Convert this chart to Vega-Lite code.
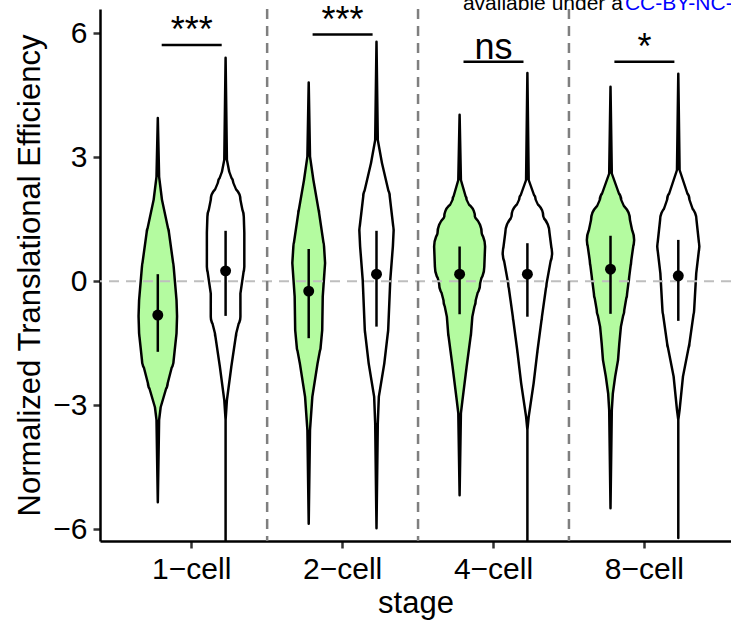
{
  "$schema": "https://vega.github.io/schema/vega-lite/v6.json",
  "width": 631,
  "height": 532,
  "autosize": "none",
  "padding": {"left": 100, "top": 9, "right": 0, "bottom": 87},
  "config": {
    "font": "Liberation Sans",
    "view": {"stroke": null},
    "axis": {"grid": false, "labelFontSize": 30, "titleFontSize": 31, "titleFontWeight": "normal", "labelColor": "black", "titleColor": "black",
      "tickColor": "#333333", "tickWidth": 2.5, "tickSize": 7, "domainColor": "black", "domainWidth": 2.5, "labelPadding": 6},
    "axisX": {"labelAngle": 0, "titlePadding": 4, "labelExpr": "replace(datum.label, '-', '−')"},
    "axisY": {"titlePadding": 6}
  },
  "datasets": {
    "violins": [
      {"stage":"1-cell","group":"A","y":3.95,"d":0},{"stage":"1-cell","group":"A","y":2.53,"d":0.05},{"stage":"1-cell","group":"A","y":1.97,"d":0.16},{"stage":"1-cell","group":"A","y":1.17,"d":0.43},{"stage":"1-cell","group":"A","y":0.35,"d":0.61},{"stage":"1-cell","group":"A","y":-0.46,"d":0.72},{"stage":"1-cell","group":"A","y":-0.85,"d":0.74},{"stage":"1-cell","group":"A","y":-1.26,"d":0.72},{"stage":"1-cell","group":"A","y":-1.91,"d":0.61},{"stage":"1-cell","group":"A","y":-2.47,"d":0.38},{"stage":"1-cell","group":"A","y":-3.05,"d":0.11},{"stage":"1-cell","group":"A","y":-3.36,"d":0.05},{"stage":"1-cell","group":"A","y":-5.35,"d":0},
      {"stage":"1-cell","group":"B","y":5.41,"d":0},{"stage":"1-cell","group":"B","y":2.94,"d":0.05},{"stage":"1-cell","group":"B","y":2.65,"d":0.14},{"stage":"1-cell","group":"B","y":2.38,"d":0.30},{"stage":"1-cell","group":"B","y":1.97,"d":0.57},{"stage":"1-cell","group":"B","y":1.56,"d":0.70},{"stage":"1-cell","group":"B","y":1.17,"d":0.72},{"stage":"1-cell","group":"B","y":0.35,"d":0.72},{"stage":"1-cell","group":"B","y":-0.3,"d":0.57},{"stage":"1-cell","group":"B","y":-0.86,"d":0.57},{"stage":"1-cell","group":"B","y":-1.26,"d":0.41},{"stage":"1-cell","group":"B","y":-2.07,"d":0.22},{"stage":"1-cell","group":"B","y":-2.88,"d":0.05},{"stage":"1-cell","group":"B","y":-3.36,"d":0},{"stage":"1-cell","group":"B","y":-6.29,"d":0},
      {"stage":"2-cell","group":"A","y":4.81,"d":0},{"stage":"2-cell","group":"A","y":3.02,"d":0.05},{"stage":"2-cell","group":"A","y":2.45,"d":0.18},{"stage":"2-cell","group":"A","y":1.65,"d":0.40},{"stage":"2-cell","group":"A","y":0.84,"d":0.59},{"stage":"2-cell","group":"A","y":0.44,"d":0.63},{"stage":"2-cell","group":"A","y":-0.37,"d":0.54},{"stage":"2-cell","group":"A","y":-1.18,"d":0.52},{"stage":"2-cell","group":"A","y":-1.59,"d":0.46},{"stage":"2-cell","group":"A","y":-1.99,"d":0.34},{"stage":"2-cell","group":"A","y":-2.8,"d":0.14},{"stage":"2-cell","group":"A","y":-3.6,"d":0.05},{"stage":"2-cell","group":"A","y":-5.87,"d":0},
      {"stage":"2-cell","group":"B","y":5.80,"d":0},{"stage":"2-cell","group":"B","y":3.42,"d":0.05},{"stage":"2-cell","group":"B","y":2.86,"d":0.21},{"stage":"2-cell","group":"B","y":2.05,"d":0.51},{"stage":"2-cell","group":"B","y":1.24,"d":0.66},{"stage":"2-cell","group":"B","y":0.84,"d":0.63},{"stage":"2-cell","group":"B","y":0.03,"d":0.53},{"stage":"2-cell","group":"B","y":-1.18,"d":0.45},{"stage":"2-cell","group":"B","y":-1.99,"d":0.30},{"stage":"2-cell","group":"B","y":-2.8,"d":0.09},{"stage":"2-cell","group":"B","y":-3.44,"d":0.05},{"stage":"2-cell","group":"B","y":-5.98,"d":0},
      {"stage":"4-cell","group":"A","y":4.03,"d":0},{"stage":"4-cell","group":"A","y":2.45,"d":0.05},{"stage":"4-cell","group":"A","y":1.97,"d":0.27},{"stage":"4-cell","group":"A","y":1.56,"d":0.59},{"stage":"4-cell","group":"A","y":1.16,"d":0.85},{"stage":"4-cell","group":"A","y":0.84,"d":0.98},{"stage":"4-cell","group":"A","y":0.35,"d":0.95},{"stage":"4-cell","group":"A","y":-0.05,"d":0.79},{"stage":"4-cell","group":"A","y":-0.46,"d":0.62},{"stage":"4-cell","group":"A","y":-0.86,"d":0.49},{"stage":"4-cell","group":"A","y":-1.26,"d":0.44},{"stage":"4-cell","group":"A","y":-2.07,"d":0.27},{"stage":"4-cell","group":"A","y":-2.88,"d":0.11},{"stage":"4-cell","group":"A","y":-3.2,"d":0.05},{"stage":"4-cell","group":"A","y":-5.18,"d":0},
      {"stage":"4-cell","group":"B","y":5.04,"d":0},{"stage":"4-cell","group":"B","y":2.45,"d":0.05},{"stage":"4-cell","group":"B","y":1.97,"d":0.32},{"stage":"4-cell","group":"B","y":1.57,"d":0.61},{"stage":"4-cell","group":"B","y":1.17,"d":0.85},{"stage":"4-cell","group":"B","y":0.68,"d":0.95},{"stage":"4-cell","group":"B","y":-0.05,"d":0.74},{"stage":"4-cell","group":"B","y":-0.86,"d":0.56},{"stage":"4-cell","group":"B","y":-1.67,"d":0.39},{"stage":"4-cell","group":"B","y":-2.47,"d":0.24},{"stage":"4-cell","group":"B","y":-3.28,"d":0.05},{"stage":"4-cell","group":"B","y":-3.6,"d":0},{"stage":"4-cell","group":"B","y":-6.29,"d":0},
      {"stage":"8-cell","group":"A","y":4.71,"d":0},{"stage":"8-cell","group":"A","y":2.61,"d":0.05},{"stage":"8-cell","group":"A","y":1.97,"d":0.41},{"stage":"8-cell","group":"A","y":1.48,"d":0.75},{"stage":"8-cell","group":"A","y":1.0,"d":0.91},{"stage":"8-cell","group":"A","y":0.51,"d":0.80},{"stage":"8-cell","group":"A","y":0.11,"d":0.72},{"stage":"8-cell","group":"A","y":-0.29,"d":0.64},{"stage":"8-cell","group":"A","y":-0.7,"d":0.53},{"stage":"8-cell","group":"A","y":-1.1,"d":0.40},{"stage":"8-cell","group":"A","y":-1.5,"d":0.34},{"stage":"8-cell","group":"A","y":-1.91,"d":0.29},{"stage":"8-cell","group":"A","y":-2.31,"d":0.18},{"stage":"8-cell","group":"A","y":-2.72,"d":0.09},{"stage":"8-cell","group":"A","y":-3.12,"d":0.05},{"stage":"8-cell","group":"A","y":-5.5,"d":0},
      {"stage":"8-cell","group":"B","y":5.02,"d":0},{"stage":"8-cell","group":"B","y":2.69,"d":0.05},{"stage":"8-cell","group":"B","y":1.97,"d":0.43},{"stage":"8-cell","group":"B","y":1.48,"d":0.70},{"stage":"8-cell","group":"B","y":0.84,"d":0.81},{"stage":"8-cell","group":"B","y":0.19,"d":0.69},{"stage":"8-cell","group":"B","y":-0.7,"d":0.61},{"stage":"8-cell","group":"B","y":-1.5,"d":0.43},{"stage":"8-cell","group":"B","y":-2.31,"d":0.18},{"stage":"8-cell","group":"B","y":-3.12,"d":0.05},{"stage":"8-cell","group":"B","y":-3.36,"d":0},{"stage":"8-cell","group":"B","y":-6.22,"d":0}
    ],
    "stats": [
      {"stage":"1-cell","group":"A","mean":-0.82,"lo":-1.71,"hi":0.17},
      {"stage":"1-cell","group":"B","mean":0.25,"lo":-0.84,"hi":1.22},
      {"stage":"2-cell","group":"A","mean":-0.24,"lo":-1.38,"hi":0.78},
      {"stage":"2-cell","group":"B","mean":0.17,"lo":-1.10,"hi":1.22},
      {"stage":"4-cell","group":"A","mean":0.17,"lo":-0.80,"hi":0.84},
      {"stage":"4-cell","group":"B","mean":0.17,"lo":-0.86,"hi":0.92},
      {"stage":"8-cell","group":"A","mean":0.29,"lo":-0.79,"hi":1.10},
      {"stage":"8-cell","group":"B","mean":0.13,"lo":-0.96,"hi":1.00}
    ],
    "sig": [
      {"stage":"1-cell","ybar":5.72,"label":"***"},
      {"stage":"2-cell","ybar":5.97,"label":"***"},
      {"stage":"4-cell","ybar":5.31,"label":"ns"},
      {"stage":"8-cell","ybar":5.31,"label":"*"}
    ],
    "bounds": [{"stage":"2-cell"},{"stage":"4-cell"},{"stage":"8-cell"}]
  },
  "layer": [
    {
      "data": {"name": "violins"},
      "mark": {"type": "trail", "color": "black", "clip": true},
      "encoding": {
        "x": {"field": "stage", "type": "nominal", "sort": null, "title": "stage",
          "scale": {"domain": ["1-cell","2-cell","4-cell","8-cell"], "paddingInner": 0, "paddingOuter": 0.0908, "align": 0.593}},
        "xOffset": {"field": "group", "type": "nominal", "scale": {"domain": ["A","B"], "paddingInner": 0, "paddingOuter": 0.113}},
        "y": {"field": "y", "type": "quantitative", "title": "Normalized Translational Efficiency",
          "scale": {"domain": [-6.29, 6.59], "nice": false, "zero": false},
          "axis": {"values": [-6,-3,0,3,6]}},
        "size": {"field": "d", "type": "quantitative", "scale": {"domain": [0, 1], "range": [2.5, 54.5], "zero": false}, "legend": null},
        "detail": [{"field": "stage"}, {"field": "group"}],
        "order": {"field": "y", "type": "quantitative"}
      }
    },
    {
      "data": {"name": "violins"},
      "transform": [{"filter": "datum.d >= 0.05"}],
      "mark": {"type": "trail", "clip": true, "opacity": 1},
      "encoding": {
        "x": {"field": "stage", "type": "nominal", "sort": null, "title": "stage"},
        "xOffset": {"field": "group", "type": "nominal"},
        "y": {"field": "y", "type": "quantitative", "title": "Normalized Translational Efficiency"},
        "size": {"field": "d", "type": "quantitative", "scale": {"domain": [0.048, 1], "range": [0, 49.5], "zero": false}, "legend": null},
        "color": {"field": "group", "type": "nominal", "scale": {"domain": ["A","B"], "range": ["#b4fba0", "#ffffff"]}, "legend": null},
        "detail": [{"field": "stage"}],
        "order": {"field": "y", "type": "quantitative"}
      }
    },
    {
      "data": {"values": [{}]},
      "mark": {"type": "rule", "color": "#bebebe", "strokeWidth": 2, "strokeDash": [10, 7]},
      "encoding": {"y": {"datum": 0, "type": "quantitative", "title": "Normalized Translational Efficiency"}}
    },
    {
      "data": {"name": "bounds"},
      "mark": {"type": "rule", "color": "#7f7f7f", "strokeWidth": 2.5, "strokeDash": [10, 7]},
      "encoding": {"x": {"field": "stage", "type": "nominal", "sort": null, "bandPosition": 0, "title": "stage"}}
    },
    {
      "data": {"name": "stats"},
      "mark": {"type": "rule", "color": "black", "strokeWidth": 2.5},
      "encoding": {
        "x": {"field": "stage", "type": "nominal", "sort": null, "title": "stage"},
        "xOffset": {"field": "group", "type": "nominal"},
        "y": {"field": "lo", "type": "quantitative", "title": "Normalized Translational Efficiency"},
        "y2": {"field": "hi"}
      }
    },
    {
      "data": {"name": "stats"},
      "mark": {"type": "point", "filled": true, "color": "black", "opacity": 1, "size": 120},
      "encoding": {
        "x": {"field": "stage", "type": "nominal", "sort": null, "title": "stage"},
        "xOffset": {"field": "group", "type": "nominal"},
        "y": {"field": "mean", "type": "quantitative", "title": "Normalized Translational Efficiency"}
      }
    },
    {
      "data": {"name": "sig"},
      "mark": {"type": "tick", "orient": "horizontal", "size": 60, "thickness": 2.5, "color": "black", "opacity": 1},
      "encoding": {
        "x": {"field": "stage", "type": "nominal", "sort": null, "title": "stage"},
        "y": {"field": "ybar", "type": "quantitative", "title": "Normalized Translational Efficiency"}
      }
    },
    {
      "data": {"name": "sig"},
      "mark": {"type": "text", "fontSize": 36, "baseline": "alphabetic", "dy": -3, "color": "black"},
      "encoding": {
        "x": {"field": "stage", "type": "nominal", "sort": null, "title": "stage"},
        "y": {"field": "ybar", "type": "quantitative", "title": "Normalized Translational Efficiency"},
        "text": {"field": "label"}
      }
    },
    {
      "data": {"values": [{}]},
      "mark": {"type": "text", "text": "available under a", "align": "left", "baseline": "alphabetic", "fontSize": 21, "dx": -30.6, "dy": 1, "color": "black"},
      "encoding": {"x": {"datum": "4-cell"}, "y": {"datum": 6.59}}
    },
    {
      "data": {"values": [{}]},
      "mark": {"type": "text", "text": "CC-BY-NC-ND 4.0 International license", "align": "left", "baseline": "alphabetic", "fontSize": 21, "dx": 131.4, "dy": 1, "color": "#0000ff"},
      "encoding": {"x": {"datum": "4-cell"}, "y": {"datum": 6.59}}
    }
  ],
  "resolve": {"scale": {"size": "independent"}}
}
